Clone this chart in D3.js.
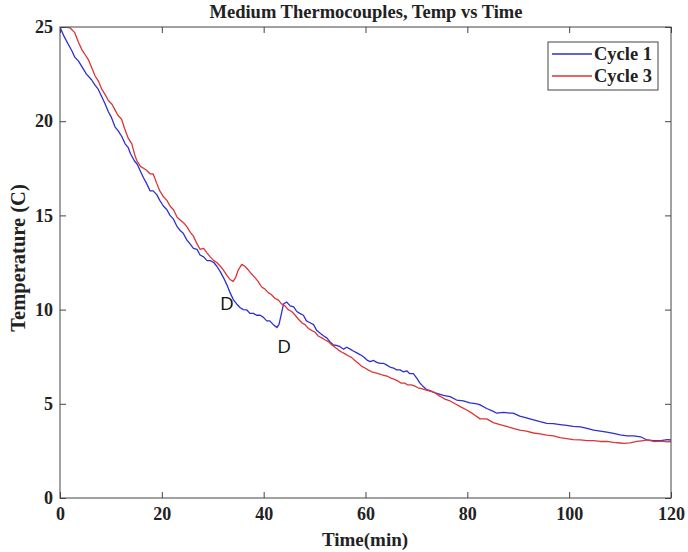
<!doctype html>
<html>
<head>
<script src="https://d3js.org/d3.v7.min.js"></script>
<style>
  body { margin: 0; background: #fff; }
</style>
</head>
<body>
<svg width="688" height="552" id="chart"></svg>
<script>
// Cycle 1 (blue): time in minutes, temperature in C
var cycle1Time = [0,0.8,1.6,2.4,2.9,3.6,4.3,5.2,6.2,6.9,7.5,8.2,8.8,9.5,10.1,10.8,11.4,12.1,12.8,13.4,13.8,14.6,15.2,15.7,16.4,17.0,17.7,18.3,19.0,19.6,20.3,21.0,21.6,22.3,23.0,23.6,24.2,24.9,25.5,26.2,26.9,27.5,28.2,28.9,29.5,30.2,30.8,31.5,32.1,32.8,33.4,34.1,34.7,35.4,36.0,36.7,37.3,38.0,38.6,39.3,39.9,40.6,41.2,41.9,42.6,43.0,43.5,43.9,44.5,45.2,45.9,46.5,47.1,47.8,48.4,49.1,49.8,50.4,51.1,51.8,52.4,53.0,53.7,54.3,55.0,55.7,56.3,57.0,57.6,58.3,59.0,59.6,60.3,60.9,61.6,62.2,62.9,63.5,64.2,64.8,65.5,66.1,66.8,67.4,68.1,68.7,69.4,70.1,70.7,71.4,72.0,72.7,73.4,74.0,75.3,76.6,77.9,79.2,80.5,81.9,82.5,83.8,85.1,85.8,87.1,88.4,89.0,90.3,91.6,93.0,94.3,95.6,96.9,98.2,99.5,100.8,102.2,103.5,104.8,106.1,107.4,108.7,110.0,111.4,112.7,114.0,115.3,116.6,118.0,119.3,120];
var cycle1Temp = [25.0,24.5,24.1,23.7,23.4,23.2,22.9,22.5,22.2,21.9,21.7,21.3,20.95,20.5,20.2,19.7,19.5,19.2,18.8,18.6,18.3,17.9,17.7,17.4,17.0,16.7,16.3,16.3,16.1,15.8,15.5,15.3,15.0,14.8,14.4,14.2,14.05,13.7,13.5,13.25,13.2,12.9,12.8,12.6,12.6,12.5,12.3,12.0,11.7,11.3,10.9,10.5,10.3,10.1,10.0,9.98,9.8,9.8,9.7,9.7,9.6,9.4,9.4,9.2,9.05,9.2,9.8,10.3,10.4,10.2,10.15,9.9,9.8,9.7,9.4,9.3,9.2,8.9,8.74,8.6,8.5,8.3,8.12,8.1,8.03,7.9,8.0,7.9,7.8,7.7,7.6,7.5,7.32,7.24,7.3,7.2,7.15,7.15,7.05,6.95,6.9,6.8,6.8,6.7,6.75,6.6,6.6,6.35,6.1,5.9,5.75,5.7,5.6,5.55,5.45,5.38,5.2,5.15,5.05,5.0,4.94,4.75,4.6,4.5,4.55,4.5,4.5,4.35,4.25,4.15,4.05,3.96,3.95,3.9,3.85,3.8,3.78,3.7,3.6,3.55,3.5,3.43,3.35,3.3,3.3,3.25,3.08,3.05,3.05,3.1,3.08];

// Cycle 3 (red)
var cycle3Time = [0,1.0,2.0,2.9,3.6,4.3,5.0,5.6,6.3,6.9,7.6,8.2,8.9,9.5,10.2,10.8,11.4,12.1,12.7,13.4,14.1,14.7,15.1,15.8,16.4,17.0,17.7,18.3,19.0,19.6,20.3,21.0,21.6,22.3,23.0,23.6,24.3,24.9,25.6,26.2,26.9,27.5,28.2,28.9,29.5,30.2,30.8,31.5,32.1,32.8,33.4,34.0,34.5,35.0,35.7,36.3,37.0,37.6,38.3,38.9,39.6,40.2,40.9,41.5,42.2,42.9,43.5,44.2,44.8,45.5,46.2,46.8,47.5,48.1,48.8,49.4,50.1,50.7,51.4,52.0,52.7,53.3,54.0,54.7,55.3,56.0,56.6,57.3,57.9,58.6,59.2,59.9,60.5,61.2,61.8,62.5,63.1,63.8,64.4,65.1,65.7,66.4,67.0,67.7,68.3,69.0,69.6,70.3,71.0,71.6,72.3,73.0,73.6,74.3,75.0,75.6,76.6,77.6,78.6,79.9,81.2,82.5,83.8,85.1,86.4,87.7,89.0,90.3,91.6,93.0,94.3,95.6,96.9,98.2,99.5,100.8,102.2,103.5,104.8,106.1,107.4,108.7,110.0,110.7,112.0,113.3,114.6,115.3,116.6,118.0,119.3,120];
var cycle3Temp = [25.0,25.0,24.95,24.7,24.2,23.8,23.5,23.25,22.8,22.4,22.1,21.7,21.4,21.1,20.9,20.6,20.3,20.1,19.6,19.1,18.8,18.2,17.9,17.6,17.5,17.4,17.2,17.2,16.7,16.3,16.0,15.8,15.5,15.3,14.9,14.76,14.6,14.4,14.1,13.9,13.5,13.2,13.25,13.0,12.8,12.6,12.5,12.3,12.1,11.8,11.6,11.5,11.7,12.1,12.4,12.3,12.1,11.9,11.7,11.5,11.2,11.1,10.9,10.8,10.6,10.5,10.3,10.2,10.0,9.9,9.7,9.5,9.3,9.2,9.0,8.9,8.8,8.6,8.5,8.4,8.3,8.15,8.0,7.85,7.75,7.65,7.55,7.45,7.3,7.15,7.0,6.9,6.8,6.7,6.65,6.6,6.55,6.5,6.45,6.35,6.3,6.2,6.1,6.1,6.0,6.0,5.95,5.85,5.8,5.75,5.7,5.65,5.6,5.45,5.35,5.25,5.15,5.0,4.85,4.67,4.45,4.2,4.2,4.0,3.9,3.8,3.7,3.6,3.55,3.45,3.4,3.34,3.3,3.2,3.15,3.1,3.08,3.05,3.05,3.0,3.0,2.95,2.92,2.9,2.93,3.0,3.05,3.08,3.0,3.02,2.98,3.0];

var xTicks = [0, 20, 40, 60, 80, 100, 120];
var yTicks = [0, 5, 10, 15, 20, 25];
var seriesNames = ["Cycle 1", "Cycle 3"];
var seriesColors = ["#2e2ed2", "#dc3535"];
// markers written on the chart: [time, temp]
var notes = [[32.8, 10.0], [44.0, 7.7]];

var svg = d3.select("#chart");
var plotL = 60, plotR = 671, plotT = 27, plotB = 498;
var serif = "'Liberation Serif', 'Times New Roman', serif";

var x = d3.scaleLinear().domain([0, 120]).range([plotL, plotR]);
var y = d3.scaleLinear().domain([0, 25]).range([plotB, plotT]);

svg.append("rect").attr("width", 688).attr("height", 552).attr("fill", "#fff");

// lines
var line = d3.line().x(function (d) { return x(d[0]); }).y(function (d) { return y(d[1]); });
var series = [d3.zip(cycle1Time, cycle1Temp), d3.zip(cycle3Time, cycle3Temp)];
svg.append("clipPath").attr("id", "clip")
  .append("rect").attr("x", plotL).attr("y", plotT).attr("width", plotR - plotL).attr("height", plotB - plotT);
svg.append("g").attr("clip-path", "url(#clip)")
  .selectAll("path").data(series).enter().append("path")
  .attr("d", line)
  .attr("fill", "none")
  .attr("stroke", function (d, i) { return seriesColors[i]; })
  .attr("stroke-width", 1.3)
  .attr("stroke-linejoin", "round");

// axes, ticks pointing inward like matlab
function styleAxis(g) {
  g.select(".domain").remove();
  g.selectAll(".tick line").attr("stroke", "#444");
  g.selectAll("text").attr("font-family", serif).attr("font-weight", "bold")
    .attr("font-size", 18).attr("fill", "#222");
}
svg.append("g").attr("transform", "translate(0," + plotB + ")")
  .call(d3.axisBottom(x).tickValues(xTicks).tickSize(-6).tickPadding(9))
  .call(styleAxis);
svg.append("g").attr("transform", "translate(" + plotL + ",0)")
  .call(d3.axisLeft(y).tickValues(yTicks).tickSize(-6).tickPadding(7))
  .call(styleAxis);
svg.append("g").attr("transform", "translate(0," + plotT + ")")
  .call(d3.axisTop(x).tickValues(xTicks).tickSize(-6).tickFormat(""))
  .call(styleAxis);
svg.append("g").attr("transform", "translate(" + plotR + ",0)")
  .call(d3.axisRight(y).tickValues(yTicks).tickSize(-6).tickFormat(""))
  .call(styleAxis);

svg.append("rect")
  .attr("x", plotL).attr("y", plotT).attr("width", plotR - plotL).attr("height", plotB - plotT)
  .attr("fill", "none").attr("stroke", "#444").attr("stroke-width", 1);

// title and labels
svg.append("text").attr("x", 366).attr("y", 18).attr("text-anchor", "middle")
  .attr("font-family", serif).attr("font-weight", "bold").attr("font-size", 18.5).attr("fill", "#222")
  .text("Medium Thermocouples, Temp vs Time");
svg.append("text").attr("x", 365).attr("y", 546).attr("text-anchor", "middle")
  .attr("font-family", serif).attr("font-weight", "bold").attr("font-size", 19).attr("fill", "#222")
  .text("Time(min)");
svg.append("text").attr("text-anchor", "middle")
  .attr("transform", "translate(25,258)rotate(-90)")
  .attr("font-family", serif).attr("font-weight", "bold").attr("font-size", 20.5).attr("fill", "#222")
  .text("Temperature (C)");

// legend
var legend = svg.append("g");
legend.append("rect").attr("x", 548).attr("y", 42).attr("width", 110).attr("height", 48)
  .attr("fill", "#fff").attr("stroke", "#444").attr("stroke-width", 1);
seriesNames.forEach(function (name, i) {
  var ly = 54 + i * 22;
  legend.append("line").attr("x1", 552).attr("x2", 592).attr("y1", ly).attr("y2", ly)
    .attr("stroke", seriesColors[i]).attr("stroke-width", 1.3);
  legend.append("text").attr("x", 594).attr("y", ly + 6)
    .attr("font-family", serif).attr("font-weight", "bold").attr("font-size", 18.5).attr("fill", "#222")
    .text(name);
});

// D markers
svg.selectAll(".note").data(notes).enter().append("text")
  .attr("class", "note")
  .attr("x", function (d) { return x(d[0]); })
  .attr("y", function (d) { return y(d[1]); })
  .attr("text-anchor", "middle")
  .attr("font-family", "'Open Sans', 'Noto Sans', sans-serif")
  .attr("font-size", 19).attr("fill", "#111")
  .text("D");
</script>
</body>
</html>
